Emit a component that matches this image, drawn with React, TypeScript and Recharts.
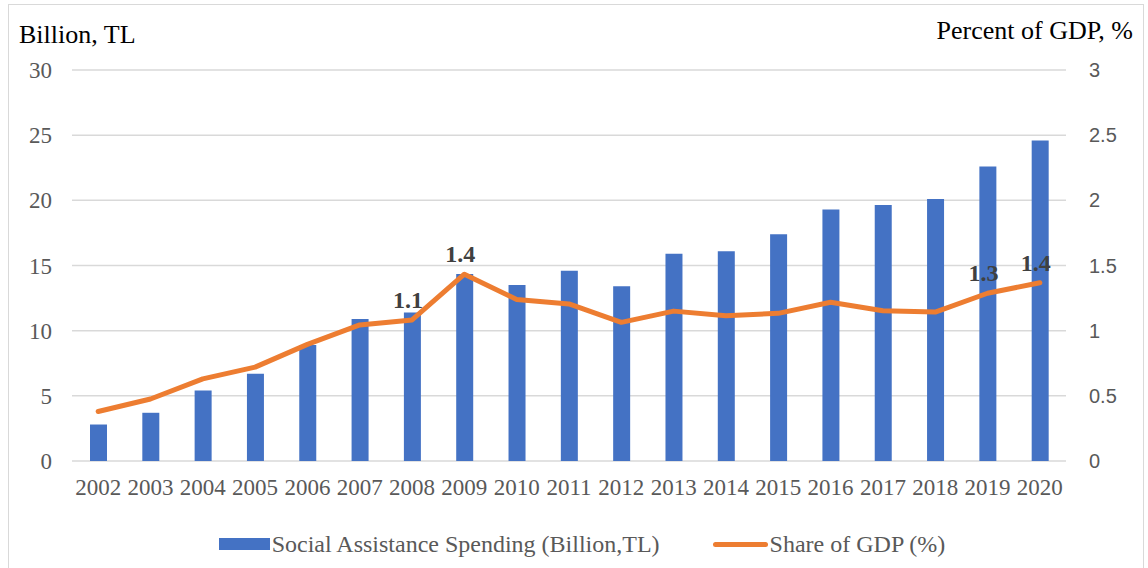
import { ComposedChart, Bar, Line, XAxis, YAxis, CartesianGrid, Legend, LabelList } from 'recharts';

const years = ['2002', '2003', '2004', '2005', '2006', '2007', '2008', '2009', '2010', '2011', '2012', '2013', '2014', '2015', '2016', '2017', '2018', '2019', '2020'];
const spending = [2.8, 3.7, 5.4, 6.7, 8.9, 10.9, 11.4, 14.35, 13.5, 14.6, 13.4, 15.9, 16.1, 17.4, 19.3, 19.65, 20.1, 22.6, 24.6];
const gdpShare = [0.38, 0.476, 0.63, 0.72, 0.895, 1.044, 1.082, 1.433, 1.24, 1.205, 1.064, 1.15, 1.115, 1.133, 1.218, 1.153, 1.143, 1.287, 1.368];
const labeledYears = ['2008', '2009', '2019', '2020'];
const leftTicks = [0, 5, 10, 15, 20, 25, 30];
const rightTicks = [0, 0.5, 1, 1.5, 2, 2.5, 3];

const data = years.map((year, i) => ({ year, spending: spending[i], share: gdpShare[i] }));

const serif = '"Liberation Serif", "Times New Roman", serif';
const sans = '"Liberation Sans", Arial, sans-serif';
const grey = '#595959';

function ShareLabel(props: any) {
  const { x, y, value, index } = props;
  if (!labeledYears.includes(years[index])) return null;
  return (
    <text x={x - 4} y={y - 12} textAnchor="middle" fontFamily={serif} fontSize={24} fontWeight="bold" fill="#404040">
      {Number(value).toFixed(1)}
    </text>
  );
}

function LegendBox() {
  const txt = { fontFamily: serif, fontSize: 24, color: grey, marginLeft: 2 };
  return (
    <div style={{ height: 30, display: 'flex', alignItems: 'center', justifyContent: 'center', paddingLeft: 12 }}>
      <span style={{ width: 51, height: 12, background: '#4472C4', display: 'inline-block' }} />
      <span style={txt}>Social Assistance Spending (Billion,TL)</span>
      <span style={{ width: 55, height: 5, borderRadius: 3, background: '#ED7D31', display: 'inline-block', marginLeft: 53 }} />
      <span style={txt}>Share of GDP (%)</span>
    </div>
  );
}

export default function App() {
  return (
    <div
      style={{
        position: 'absolute',
        left: 8,
        top: 4,
        width: 1136,
        height: 570,
        border: '1px solid #d9d9d9',
        boxSizing: 'border-box',
        background: '#fff',
      }}
    >
      <div style={{ position: 'absolute', left: 10, top: 17, fontFamily: serif, fontSize: 26, lineHeight: '26px', color: '#000' }}>
        Billion, TL
      </div>
      <div style={{ position: 'absolute', right: 10, top: 13, fontFamily: serif, fontSize: 26, lineHeight: '26px', color: '#000' }}>
        Percent of GDP, %
      </div>
      <ComposedChart width={1134} height={568} data={data} margin={{ top: 65, right: 0, left: 0, bottom: 14 }}>
        <CartesianGrid yAxisId="left" vertical={false} stroke="#d9d9d9" strokeWidth={1.5} />
        <XAxis
          dataKey="year"
          height={68}
          axisLine={false}
          tickLine={false}
          tickMargin={12}
          interval={0}
          tick={{ fontFamily: serif, fontSize: 23, fill: grey }}
        />
        <YAxis
          yAxisId="left"
          width={63}
          domain={[0, 30]}
          ticks={leftTicks}
          axisLine={false}
          tickLine={false}
          tickMargin={14}
          tick={{ fontFamily: serif, fontSize: 23, fill: grey }}
        />
        <YAxis
          yAxisId="right"
          orientation="right"
          width={77}
          domain={[0, 3]}
          ticks={rightTicks}
          axisLine={false}
          tickLine={false}
          tickMargin={17}
          tick={{ fontFamily: sans, fontSize: 20, fill: grey }}
        />
        <Legend verticalAlign="bottom" height={30} content={<LegendBox />} />
        <Bar yAxisId="left" dataKey="spending" name="Social Assistance Spending (Billion,TL)" fill="#4472C4" barSize={17} isAnimationActive={false} />
        <Line
          yAxisId="right"
          type="linear"
          dataKey="share"
          name="Share of GDP (%)"
          stroke="#ED7D31"
          strokeWidth={5}
          strokeLinecap="round"
          strokeLinejoin="round"
          dot={false}
          activeDot={false}
          isAnimationActive={false}
        >
          <LabelList dataKey="share" content={<ShareLabel />} />
        </Line>
      </ComposedChart>
    </div>
  );
}
